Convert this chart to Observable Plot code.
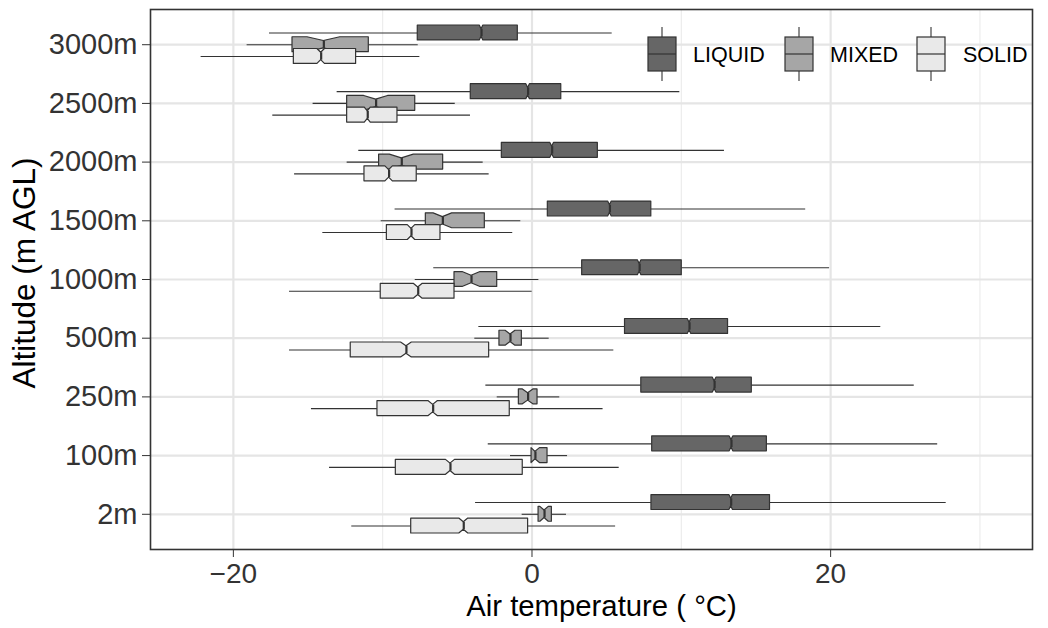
<!DOCTYPE html>
<html><head><meta charset="utf-8">
<script src="https://cdn.jsdelivr.net/npm/d3@7"></script>
<script src="https://cdn.jsdelivr.net/npm/@observablehq/plot@0.6"></script>
<style>body{margin:0;background:#fff;} #chart{width:1048px;height:628px;}</style>
</head><body><div id="chart"></div>
<script>
// Categories (bottom to top)
const altitudes = ["2m","100m","250m","500m","1000m","1500m","2000m","2500m","3000m"];
const phases = ["LIQUID","MIXED","SOLID"];

// Box statistics per altitude: [lower whisker, Q1, median, Q3, upper whisker] (°C)
const liquidStats = [
  [-3.78, 8.00, 13.34, 15.94, 27.74],
  [-2.93, 8.05, 13.36, 15.73, 27.17],
  [-3.09, 7.32, 12.23, 14.72, 25.60],
  [-3.56, 6.23, 10.55, 13.13, 23.36],
  [-6.58, 3.36, 7.21, 10.03, 19.93],
  [-9.17, 1.06, 5.22, 7.99, 18.33],
  [-11.60, -2.02, 1.35, 4.41, 12.89],
  [-13.05, -4.10, -0.26, 1.96, 9.90],
  [-17.58, -7.65, -3.38, -0.95, 5.37]
];
const mixedStats = [
  [-0.66, 0.44, 0.84, 1.33, 2.31],
  [-1.44, -0.03, 0.23, 1.04, 2.38],
  [-2.33, -0.88, -0.26, 0.37, 1.86],
  [-3.83, -2.18, -1.44, -0.68, 1.15],
  [-7.82, -5.19, -4.05, -2.33, 0.46],
  [-10.10, -7.11, -5.97, -3.16, -0.75],
  [-12.38, -10.24, -8.72, -5.95, -3.27],
  [-14.66, -12.38, -10.44, -7.82, -5.14],
  [-19.08, -16.04, -13.94, -10.93, -7.62]
];
const solidStats = [
  [-12.07, -8.09, -4.57, -0.26, 5.60],
  [-13.56, -9.12, -5.46, -0.62, 5.84],
  [-14.77, -10.35, -6.62, -1.49, 4.76],
  [-16.24, -12.14, -8.41, -2.87, 5.48],
  [-16.24, -10.13, -7.62, -5.19, 0.01],
  [-14.01, -9.72, -8.07, -6.13, -1.29],
  [-15.90, -11.22, -9.57, -7.72, -2.87],
  [-17.36, -12.38, -11.00, -9.01, -4.12],
  [-22.16, -15.95, -14.12, -11.78, -7.51]
];
// Notch half-widths (°C)
const liquidNotch = [0.12, 0.12, 0.12, 0.12, 0.12, 0.12, 0.12, 0.12, 0.12];
const mixedNotch  = [0.28, 0.30, 0.35, 0.33, 0.60, 0.62, 0.80, 0.80, 1.10];
const solidNotch  = [0.30, 0.30, 0.30, 0.36, 0.30, 0.25, 0.25, 0.20, 0.25];

const xMajorTicks = [-20, 0, 20];
const xMinorTicks = [-10, 10, 30];
const xTitle = "Air temperature ( °C)";
const yTitle = "Altitude (m AGL)";

// styles
const phaseFill = ["#666666", "#a6a6a6", "#e9e9e9"];
const lineCol = "#333333";
const font = "'Liberation Sans', Arial, Helvetica, sans-serif";

const statsByPhase = {LIQUID: liquidStats, MIXED: mixedStats, SOLID: solidStats};
const notchByPhase = {LIQUID: liquidNotch, MIXED: mixedNotch, SOLID: solidNotch};
const dodge = {LIQUID: 0.2, MIXED: 0, SOLID: -0.2};
const H = 0.127; // half box height in category units

const boxes = [];
phases.forEach(p => {
  statsByPhase[p].forEach((s, ai) => {
    boxes.push({phase: p, alt: altitudes[ai], c: ai + dodge[p],
      lo: s[0], q1: s[1], med: s[2], q3: s[3], hi: s[4], notch: notchByPhase[p][ai]});
  });
});
const outline = boxes.flatMap((b, i) => {
  const nl = Math.max(b.q1, b.med - b.notch), nh = Math.min(b.q3, b.med + b.notch);
  return [[b.q1, H], [nl, H], [b.med, H / 2], [nh, H], [b.q3, H]]
    .map(([x, h]) => ({id: i, phase: b.phase, x, y1: b.c - h, y2: b.c + h}));
});

const plot = Plot.plot({
  width: 1048, height: 628,
  marginLeft: 150, marginRight: 16, marginTop: 9, marginBottom: 79,
  style: {fontFamily: font, background: "white", overflow: "visible"},
  x: {domain: [-25.55, 33.52]},
  y: {domain: [-0.6, 8.6]},
  color: {domain: phases, range: phaseFill},
  marks: [
    Plot.gridX(xMinorTicks, {stroke: "#ebebeb", strokeOpacity: 1, strokeWidth: 1.1}),
    Plot.gridX(xMajorTicks, {stroke: "#e5e5e5", strokeOpacity: 1, strokeWidth: 2.2}),
    Plot.gridY(d3.range(altitudes.length), {stroke: "#e5e5e5", strokeOpacity: 1, strokeWidth: 2.2}),
    Plot.ruleY(boxes, {y: "c", x1: "lo", x2: "q1", stroke: lineCol, strokeWidth: 1.1}),
    Plot.ruleY(boxes, {y: "c", x1: "q3", x2: "hi", stroke: lineCol, strokeWidth: 1.1}),
    Plot.areaY(outline, {x: "x", y1: "y1", y2: "y2", z: "id", fill: "phase", stroke: lineCol, strokeWidth: 1.2, curve: "linear"}),
    Plot.ruleX(boxes, {x: "med", y1: d => d.c - H / 2, y2: d => d.c + H / 2, stroke: lineCol, strokeWidth: 2.2}),
    Plot.frame({stroke: lineCol, strokeWidth: 1.6}),
    Plot.axisX(xMajorTicks, {tickSize: 8, tickPadding: 6, fontSize: 28, label: null, color: lineCol,
      tickFormat: d => (d < 0 ? "\u2212" + Math.abs(d) : String(d))}),
    Plot.axisY(d3.range(altitudes.length), {tickSize: 8, tickPadding: 5, fontSize: 29, label: null, color: lineCol,
      tickFormat: i => altitudes[i]}),
    Plot.text([xTitle], {text: d => d, frameAnchor: "bottom", dy: 66, dx: 10, fontSize: 29.3, fill: "#000"})
  ]
});

const svg = d3.select(plot);
// Y axis title
svg.append("text")
  .attr("transform", "translate(24,273) rotate(-90)")
  .attr("text-anchor", "middle").attr("dy", "0.36em")
  .attr("font-family", font).attr("font-size", 31.5).attr("fill", "#000")
  .text(yTitle);

// Legend inside panel (top right)
const lg = svg.append("g").attr("font-family", font);
const keyX = [648, 785, 917];
const labelX = [693, 830, 963];
phases.forEach((p, i) => {
  const g = lg.append("g");
  const cx = keyX[i] + 14;
  g.append("line").attr("x1", cx).attr("x2", cx).attr("y1", 27).attr("y2", 81).attr("stroke", lineCol).attr("stroke-width", 1.1);
  g.append("rect").attr("x", keyX[i]).attr("y", 37).attr("width", 28).attr("height", 34)
    .attr("fill", phaseFill[i]).attr("stroke", lineCol).attr("stroke-width", 1.2);
  g.append("line").attr("x1", keyX[i]).attr("x2", keyX[i] + 28).attr("y1", 54).attr("y2", 54).attr("stroke", lineCol).attr("stroke-width", 1.2);
  g.append("text").attr("x", labelX[i]).attr("y", 54).attr("dy", "0.36em").attr("text-anchor", "start")
    .attr("font-size", 21.5).attr("fill", "#000").text(p);
});

document.getElementById("chart").appendChild(plot);
</script>
</body></html>
